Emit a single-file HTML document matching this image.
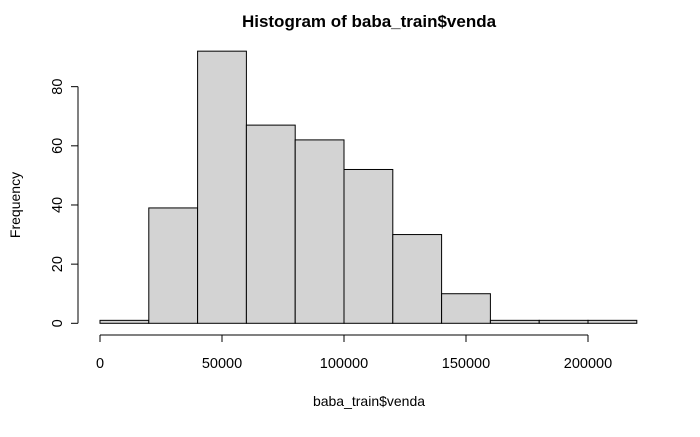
<!DOCTYPE html>
<html><head><meta charset="utf-8"><style>
body{margin:0;background:#fff;}
svg text{font-family:"Liberation Sans",Arial,sans-serif;fill:#000;}
</style></head><body>
<svg id="chart" width="700" height="432" viewBox="0 0 700 432">
<text x="369" y="27" font-size="17" font-weight="bold" text-anchor="middle">Histogram of baba_train$venda</text>
<text x="369" y="406" font-size="14" text-anchor="middle">baba_train$venda</text>
<text transform="translate(20,205) rotate(-90)" font-size="14" text-anchor="middle">Frequency</text>
<g id="bars"></g><g id="xaxis"></g><g id="yaxis"></g>
</svg>
<script>
const binStarts=[0,20000,40000,60000,80000,100000,120000,140000,160000,180000,200000];
const counts=[1,39,92,67,62,52,30,10,1,1,1];
const binWidth=20000;
const xTicks=[0,50000,100000,150000,200000];
const yTicks=[0,20,40,60,80];
const NS="http://www.w3.org/2000/svg";
const xs=v=>100+v*0.00244;
const ys=v=>323.3-v*2.958;
function mk(tag,attrs,parent){const e=document.createElementNS(NS,tag);for(const k in attrs)e.setAttribute(k,attrs[k]);parent.appendChild(e);return e;}
const bars=document.getElementById('bars');
binStarts.forEach((b,i)=>{
 const r=mk('rect',{x:xs(b),y:ys(counts[i]),width:xs(b+binWidth)-xs(b),height:ys(0)-ys(counts[i]),fill:'#d3d3d3',stroke:'#000','stroke-width':1},bars);
 
 
});
const xa=document.getElementById('xaxis');
const xl=mk('line',{x1:xs(xTicks[0]),x2:xs(xTicks[xTicks.length-1]),y1:335,y2:335,stroke:'#000'},xa);


xTicks.forEach(t=>{
 mk('line',{x1:xs(t),x2:xs(t),y1:335,y2:342,stroke:'#000'},xa);
 const tx=mk('text',{x:xs(t),y:368,'font-size':14.5,'text-anchor':'middle'},xa);
 tx.textContent=t;
 
 
});
const ya=document.getElementById('yaxis');
const yl=mk('line',{x1:78,x2:78,y1:ys(yTicks[0]),y2:ys(yTicks[yTicks.length-1]),stroke:'#000'},ya);


yTicks.forEach(t=>{
 mk('line',{x1:71,x2:78,y1:ys(t),y2:ys(t),stroke:'#000'},ya);
 const tx=mk('text',{x:0,y:0,'font-size':14.5,'text-anchor':'middle',transform:`translate(62,${ys(t)}) rotate(-90)`},ya);
 tx.textContent=t;
 
 
});
</script>
</body></html>
